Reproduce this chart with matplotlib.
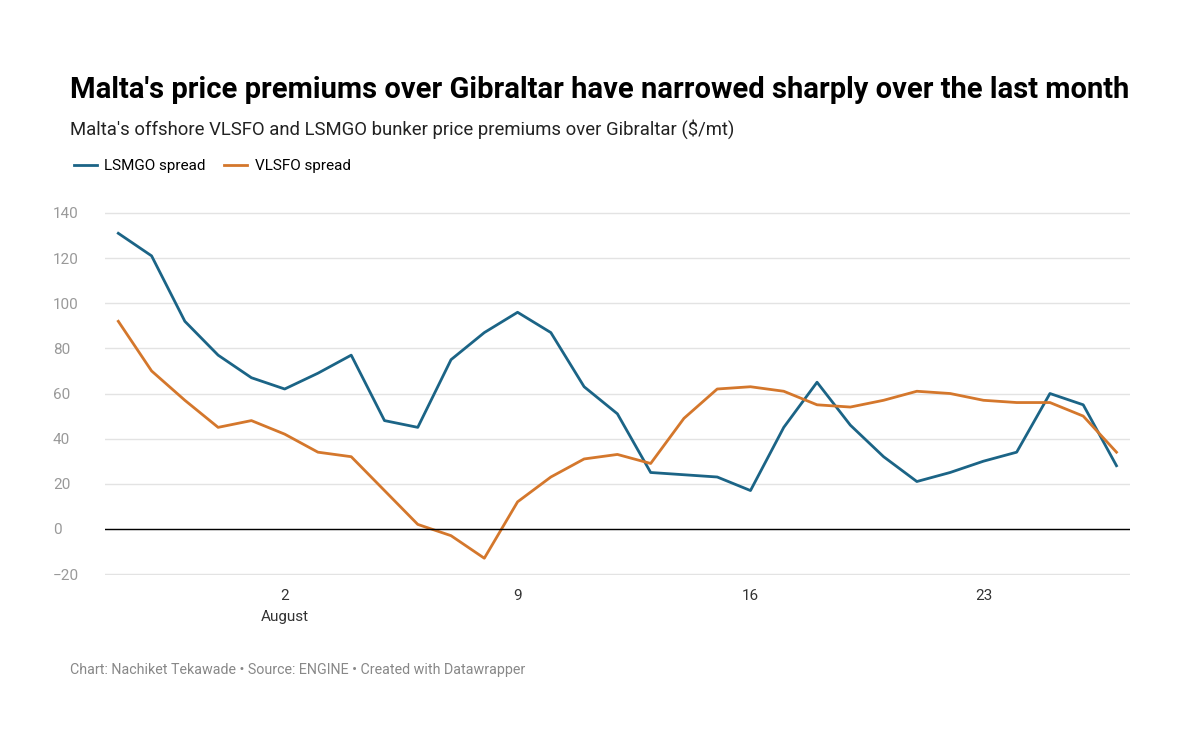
import matplotlib.pyplot as plt
import matplotlib.lines as mlines
import pandas as pd

plt.rcParams['font.family'] = ['Roboto', 'DejaVu Sans']

dates = pd.date_range("2021-07-28", "2021-08-27", freq="D")
lsmgo = [131, 121, 92, 77, 67, 62, 69, 77, 48, 45, 75, 87, 96, 87, 63, 51,
         25, 24, 23, 17, 45, 65, 46, 32, 21, 25, 30, 34, 60, 55, 28]
vlsfo = [92, 70, 57, 45, 48, 42, 34, 32, 17, 2, -3, -13, 12, 23, 31, 33,
         29, 49, 62, 63, 61, 55, 54, 57, 61, 60, 57, 56, 56, 50, 34]
yticks = [-20, 0, 20, 40, 60, 80, 100, 120, 140]
xtick_days = ["2021-08-02", "2021-08-09", "2021-08-16", "2021-08-23"]
xtick_labels = ["2\nAugust", "9", "16", "23"]

blue = "#1b6486"
orange = "#d4772c"

fig = plt.figure(figsize=(12, 7.46), dpi=100)
ax = fig.add_axes([0.0875, 0.229, 0.854, 0.487])
ax.plot(dates, lsmgo, color=blue, lw=2)
ax.plot(dates, vlsfo, color=orange, lw=2)
ax.axhline(0, color="black", lw=1)

ax.set_ylim(-20.5, 140.5)
ax.set_yticks(yticks)
ax.set_yticklabels([str(v).replace("-", "\u2212") for v in yticks])
ax.set_xlim(dates[0] - pd.Timedelta(days=0.4), dates[-1] + pd.Timedelta(days=0.4))
ax.set_xticks(pd.to_datetime(xtick_days))
ax.set_xticklabels(xtick_labels, fontsize=11, color="#333333", linespacing=1.6)
ax.grid(axis="y", color="#e3e3e3", lw=1)
ax.set_axisbelow(True)
for s in ax.spines.values():
    s.set_visible(False)
ax.tick_params(axis="both", length=0, labelsize=11)
ax.tick_params(axis="y", colors="#999999", pad=8)
ax.tick_params(axis="x", pad=10)
for lab in ax.get_yticklabels():
    lab.set_horizontalalignment("left")
    lab.set_x(-0.04)

fig.text(0.058, 0.868, "Malta's price premiums over Gibraltar have narrowed sharply over the last month",
         fontsize=21, fontweight="bold")
fig.text(0.058, 0.82, "Malta's offshore VLSFO and LSMGO bunker price premiums over Gibraltar ($/mt)",
         fontsize=13.3, color="#222222")
h1 = mlines.Line2D([], [], color=blue, lw=2, label="LSMGO spread")
h2 = mlines.Line2D([], [], color=orange, lw=2, label="VLSFO spread")
fig.legend(handles=[h1, h2], loc="upper left", bbox_to_anchor=(0.05, 0.805), ncol=2,
           frameon=False, fontsize=11, handlelength=1.5, columnspacing=1.2, handletextpad=0.5)
fig.text(0.058, 0.097, "Chart: Nachiket Tekawade • Source: ENGINE • Created with Datawrapper",
         fontsize=10.3, color="#888888")

fig.savefig("out.png", dpi=100)
